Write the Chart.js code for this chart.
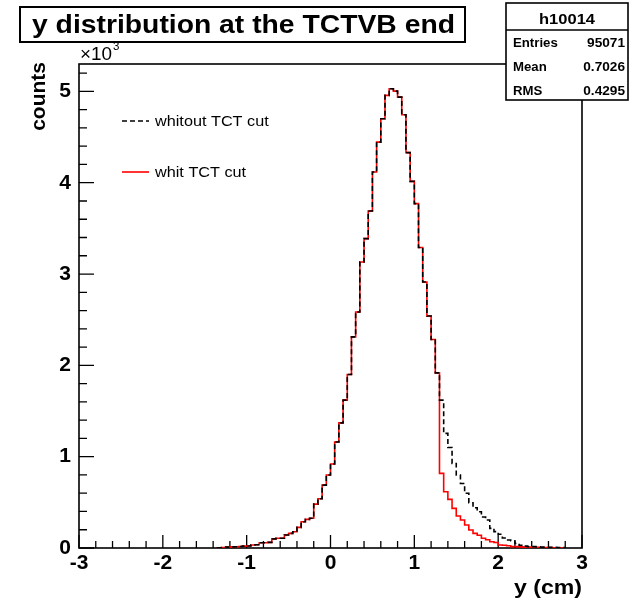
<!DOCTYPE html>
<html>
<head>
<meta charset="utf-8">
<script src="https://cdn.jsdelivr.net/npm/chart.js@4"></script>
<style>
html, body { margin: 0; padding: 0; background: #fff; }
#wrap { width: 636px; height: 601px; }
</style>
</head>
<body>
<div id="wrap"><canvas id="myChart" width="636" height="601"></canvas></div>
<script>
// y histogram, 0.05 cm bins, first non-empty bin starts at -1.35
const binStart = -1.35;
const binWidth = 0.05;

const noCutCounts = [
  3, 6, 10, 12, 14, 16, 20, 22, 33, 36,
  58, 58, 62, 100, 106, 106, 142, 160, 178, 226,
  288, 314, 325, 480, 540, 689, 799, 920, 1160, 1370,
  1619, 1900, 2312, 2585, 3132, 3388, 3690, 4117, 4445, 4700,
  4956, 5029, 5003, 4937, 4745, 4329, 4015, 3771, 3290, 2913,
  2541, 2283, 1918, 1619, 1255, 1100, 926, 800, 707, 600,
  496, 440, 397, 340, 306, 215, 179, 150, 110, 88,
  80, 50, 30, 20, 15, 15, 12, 10, 10, 8,
  8, 6, 5
];
const cutCounts = [
  3, 6, 10, 12, 14, 16, 20, 22, 33, 36,
  58, 58, 62, 100, 106, 106, 142, 160, 178, 226,
  288, 314, 325, 480, 540, 689, 799, 920, 1160, 1370,
  1619, 1900, 2312, 2585, 3132, 3388, 3690, 4117, 4445, 4700,
  4956, 5029, 5003, 4937, 4745, 4329, 4015, 3771, 3290, 2913,
  2541, 2283, 1918, 817, 616, 532, 434, 350, 306, 252,
  197, 160, 140, 106, 90, 69, 60, 33, 30, 25,
  15, 15, 12, 10, 10, 8, 8, 6, 5, 4,
  3, 2, 0
];

const xTickValues = [-3, -2, -1, 0, 1, 2, 3];
const yTickValues = [0, 1000, 2000, 3000, 4000, 5000];

const seriesNames = ['whitout TCT cut', 'whit TCT cut'];
const histTitle = 'y distribution at the TCTVB end';
const statsName = 'h10014';
const statsRows = [['Entries', '95071'], ['Mean', '0.7026'], ['RMS', '0.4295']];

// outline points: one per bin low edge, closing at the last upper edge
function toSteps(counts) {
  const pts = [{ x: binStart, y: 0 }];
  counts.forEach((c, i) => pts.push({ x: binStart + i * binWidth, y: c }));
  pts.push({ x: binStart + counts.length * binWidth, y: 0 });
  return pts;
}

// text stretched horizontally like the original
function txt(ctx, s, x, y, font, align, sx) {
  ctx.save();
  ctx.font = font;
  ctx.textAlign = align;
  ctx.fillStyle = '#000';
  ctx.translate(x, y);
  ctx.scale(sx, 1);
  ctx.fillText(s, 0, 0);
  const w = ctx.measureText(s).width * sx;
  ctx.restore();
  return w;
}

const frame = {
  id: 'frame',
  beforeDatasetsDraw(chart) {
    const { ctx, chartArea: a, scales: { x, y } } = chart;
    ctx.save();
    ctx.strokeStyle = '#000';
    ctx.lineWidth = 1.3;
    ctx.beginPath();
    for (let k = 0; k <= 30; k++) {
      const px = x.getPixelForValue(-3 + k * 0.2);
      ctx.moveTo(px, a.bottom);
      ctx.lineTo(px, a.bottom - (k % 5 === 0 ? 13 : 7));
    }
    for (let k = 0; k <= 26; k++) {
      const py = y.getPixelForValue(k * 200);
      ctx.moveTo(a.left, py);
      ctx.lineTo(a.left + (k % 5 === 0 ? 15 : 8), py);
    }
    ctx.stroke();
    ctx.lineWidth = 1.6;
    ctx.strokeRect(a.left, a.top, a.right - a.left, a.bottom - a.top);
    ctx.restore();
  },
  afterDraw(chart) {
    const { ctx, chartArea: a } = chart;
    ctx.save();

    // title box
    ctx.fillStyle = '#fff';
    ctx.fillRect(20, 7, 445, 35);
    ctx.strokeStyle = '#000';
    ctx.lineWidth = 2;
    ctx.strokeRect(20, 7, 445, 35);
    ctx.font = 'bold 25px "Liberation Sans"';
    const w = ctx.measureText(histTitle).width;
    txt(ctx, histTitle, 32, 33, 'bold 25px "Liberation Sans"', 'left', 423 / w);

    // stats box
    ctx.fillStyle = '#fff';
    ctx.fillRect(506, 3, 122, 97);
    ctx.lineWidth = 1.6;
    ctx.strokeRect(506, 3, 122, 97);
    ctx.beginPath();
    ctx.moveTo(506, 30);
    ctx.lineTo(628, 30);
    ctx.stroke();
    txt(ctx, statsName, 567, 24, 'bold 15px "Liberation Sans"', 'center', 1.1);
    statsRows.forEach((r, i) => {
      txt(ctx, r[0], 513, 47 + i * 24, 'bold 12px "Liberation Sans"', 'left', 1.1);
      txt(ctx, r[1], 625, 47 + i * 24, 'bold 13px "Liberation Sans"', 'right', 1.05);
    });

    // axis titles
    ctx.save();
    ctx.translate(39, a.top - 2);
    ctx.rotate(-Math.PI / 2);
    ctx.font = 'bold 21px "Liberation Sans"';
    ctx.textAlign = 'right';
    ctx.textBaseline = 'middle';
    ctx.fillStyle = '#000';
    ctx.fillText('counts', 0, 0);
    ctx.restore();
    const mw = txt(ctx, '\u00d710', 80, 60, '18px "Liberation Sans"', 'left', 1.05);
    txt(ctx, '3', 80 + mw + 1, 50, '11px "Liberation Sans"', 'left', 1.05);
    txt(ctx, 'y (cm)', a.right, 594, 'bold 21px "Liberation Sans"', 'right', 1.1);

    // legend
    const legY = [121, 172];
    const legStyle = [{ c: '#000', d: [5, 3] }, { c: '#ff0000', d: [] }];
    legY.forEach((ly, i) => {
      ctx.strokeStyle = legStyle[i].c;
      ctx.setLineDash(legStyle[i].d);
      ctx.lineWidth = 1.6;
      ctx.beginPath();
      ctx.moveTo(122, ly);
      ctx.lineTo(149, ly);
      ctx.stroke();
      ctx.setLineDash([]);
      txt(ctx, seriesNames[i], 155, ly + 5, '14px "Liberation Sans"', 'left', 1.16);
    });
    ctx.restore();
  }
};

const ctx = document.getElementById('myChart').getContext('2d');
const myChart = new Chart(ctx, {
  type: 'line',
  data: {
    datasets: [
      {
        label: seriesNames[0],
        data: toSteps(noCutCounts),
        borderColor: '#000',
        borderDash: [5, 3],
        borderWidth: 1.6,
        stepped: 'before',
        pointRadius: 0,
        fill: false
      },
      {
        label: seriesNames[1],
        data: toSteps(cutCounts),
        borderColor: '#ff0000',
        borderWidth: 1.6,
        stepped: 'before',
        pointRadius: 0,
        fill: false
      }
    ]
  },
  options: {
    responsive: false,
    animation: false,
    devicePixelRatio: 1,
    layout: { padding: { top: 64, right: 54, left: 0, bottom: 0 } },
    plugins: { legend: { display: false }, tooltip: { enabled: false }, title: { display: false } },
    scales: {
      x: {
        type: 'linear',
        min: -3,
        max: 3,
        grid: { display: false, drawTicks: false },
        border: { display: false },
        afterBuildTicks(s) { s.ticks = xTickValues.map(v => ({ value: v })); },
        ticks: {
          padding: 3,
          maxRotation: 0,
          autoSkip: false,
          color: '#000',
          font: { family: 'Liberation Sans', size: 21, weight: 'bold' },
          callback: v => v
        },
        afterFit(s) { s.height = 53; }
      },
      y: {
        type: 'linear',
        min: 0,
        max: 5300,
        grid: { display: false, drawTicks: false },
        border: { display: false },
        afterBuildTicks(s) { s.ticks = yTickValues.map(v => ({ value: v })); },
        ticks: {
          padding: 8,
          autoSkip: false,
          color: '#000',
          font: { family: 'Liberation Sans', size: 21, weight: 'bold' },
          callback: v => v / 1000
        },
        afterFit(s) { s.width = 79; }
      }
    }
  },
  plugins: [frame]
});
</script>
</body>
</html>
